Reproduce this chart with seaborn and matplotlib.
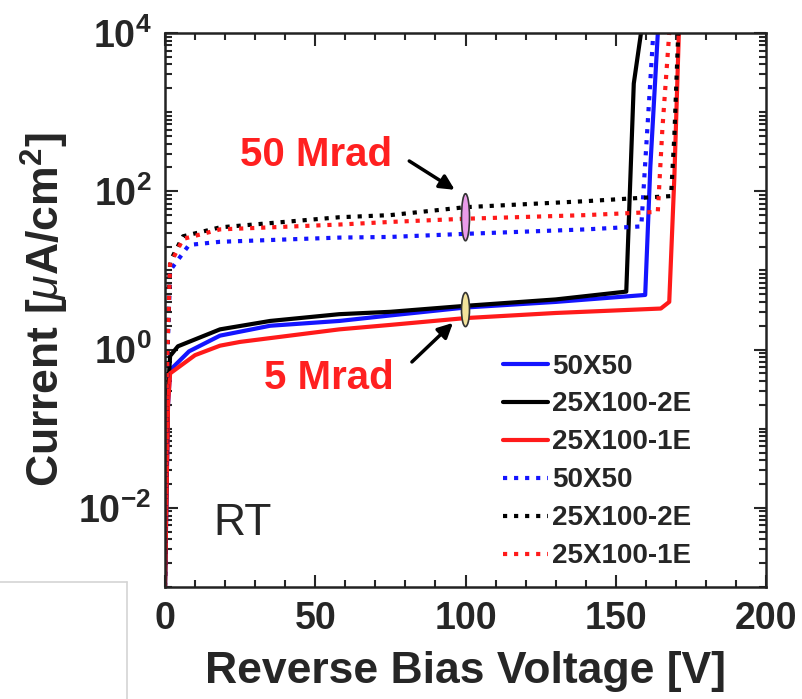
import numpy as np
import matplotlib
matplotlib.use('Agg')
import matplotlib.pyplot as plt
import matplotlib.ticker as mticker
from matplotlib.patches import Ellipse
from matplotlib.lines import Line2D
import seaborn as sns

# 5 Mrad (solid)
v_50x50_5 = [0, 1.0, 1.7, 8, 18.3, 35, 58, 75, 100, 130, 159.8, 161.5, 164]
i_50x50_5 = [1e-3, 0.2, 0.55, 0.95, 1.5, 2.0, 2.3, 2.7, 3.4, 4.0, 4.9, 200, 1e4]
v_2e_5 = [0, 1.0, 1.7, 4.3, 18.3, 35, 58, 75, 100, 130, 153.5, 156, 158.4]
i_2e_5 = [1e-3, 0.3, 0.83, 1.1, 1.8, 2.3, 2.8, 3.0, 3.57, 4.3, 5.4, 2300, 1e4]
v_1e_5 = [0, 1.0, 1.7, 10, 18.3, 25, 58, 75, 100, 130, 165, 167.8, 169.5, 171]
i_1e_5 = [1e-3, 0.2, 0.5, 0.85, 1.12, 1.25, 1.8, 2.05, 2.5, 2.9, 3.3, 4.0, 150, 1e4]

# 50 Mrad (dotted)
v_50x50_50 = [0, 0.8, 1.7, 8, 18.3, 58, 75, 100, 140, 158.5, 160, 162.5]
i_50x50_50 = [1e-3, 0.8, 10, 21, 23, 26, 26.5, 29, 33, 36, 300, 1e4]
v_2e_50 = [0, 0.8, 1.7, 6, 18.3, 58, 75, 100, 140, 168.4, 169.5, 170.8]
i_2e_50 = [1e-3, 1.0, 13, 27, 35, 47, 50, 63, 75, 87, 500, 1e4]
v_1e_50 = [0, 0.8, 1.7, 6, 18.3, 58, 75, 100, 140, 164, 165.5, 167.8]
i_1e_50 = [1e-3, 1.0, 12, 25, 33, 38, 41, 45, 50, 55, 600, 1e4]

labels = ['50X50', '25X100-2E', '25X100-1E']
colors = ['#1414ff', 'black', '#ff1a1a']
solid = [(v_50x50_5, i_50x50_5), (v_2e_5, i_2e_5), (v_1e_5, i_1e_5)]
dotted = [(v_50x50_50, i_50x50_50), (v_2e_50, i_2e_50), (v_1e_50, i_1e_50)]

sns.set_style('ticks')
plt.rcParams['font.family'] = ['Liberation Sans', 'DejaVu Sans']
plt.rcParams['mathtext.fontset'] = 'custom'
plt.rcParams['mathtext.rm'] = 'Liberation Sans'
plt.rcParams['mathtext.it'] = 'Liberation Sans:italic'
plt.rcParams['mathtext.bf'] = 'Liberation Sans:bold'

fig = plt.figure(figsize=(8.02, 6.99), dpi=100)
ax = fig.add_axes([165/802, 1-587/699, 601/802, 554/699])

for (v, i), lab, c in zip(solid, labels, colors):
    sns.lineplot(x=v, y=i, color=c, lw=3, label=lab, sort=False, estimator=None, ax=ax)
for (v, i), lab, c in zip(dotted, labels, colors):
    sns.lineplot(x=v, y=i, color=c, lw=3, linestyle=':', label=lab, sort=False, estimator=None, ax=ax)

ax.set_yscale('log')
ax.set_xlim(0, 200)
ax.set_ylim(1e-3, 1e4)

ax.xaxis.set_major_locator(mticker.MultipleLocator(50))
ax.xaxis.set_minor_locator(mticker.MultipleLocator(10))
ax.yaxis.set_major_locator(mticker.LogLocator(base=100, numticks=10))
ax.yaxis.set_minor_locator(mticker.LogLocator(base=10, subs=np.arange(1, 10), numticks=30))
ax.yaxis.set_major_formatter(mticker.FuncFormatter(
    lambda val, pos: r'$\mathbf{10^{%d}}$' % int(round(np.log10(val)))))
ax.yaxis.set_minor_formatter(mticker.NullFormatter())

ax.tick_params(which='both', direction='in', top=True, right=True, width=1.5, labelsize=27)
ax.tick_params(which='major', length=9)
ax.tick_params(which='minor', length=5)
ax.tick_params(axis='x', pad=10)
ax.tick_params(axis='y', pad=10)
for t in ax.get_xticklabels():
    t.set_fontweight('bold')
for s in ax.spines.values():
    s.set_linewidth(1.8)
    s.set_color('#222222')

ax.set_xlabel('Reverse Bias Voltage [V]', fontsize=32, fontweight='bold', labelpad=10)
ax.set_ylabel(r'Current [$\mu$A/cm$^\mathbf{2}$]', fontsize=32, fontweight='bold', labelpad=5)

ax.legend(loc='lower left', bbox_to_anchor=(0.563, 0.032), frameon=False,
          prop={'weight': 'bold', 'size': 20}, handlelength=1.6, handletextpad=0.15,
          labelspacing=0.43, borderpad=0, borderaxespad=0)

# annotations
ax.text(50.2, 206, '50 Mrad', color='#ff2020', fontsize=29, fontweight='bold',
        ha='center', va='baseline')
ax.text(54.6, 0.32, '5 Mrad', color='#ff2020', fontsize=29, fontweight='bold',
        ha='center', va='baseline')
ax.annotate('', xy=(97.2, 100), xytext=(80.5, 252),
            arrowprops=dict(arrowstyle='-|>', lw=2.5, color='black', mutation_scale=22))
ax.annotate('', xy=(96.5, 2.3), xytext=(81.5, 0.66),
            arrowprops=dict(arrowstyle='-|>', lw=2.5, color='black', mutation_scale=22))


def axes_xy(x, y):
    return ax.transAxes.inverted().transform(ax.transData.transform((x, y)))


ax.add_patch(Ellipse(axes_xy(100, 47), 8/601, 47/554, transform=ax.transAxes,
                     facecolor='#e99be9', edgecolor='#333333', lw=1.2, zorder=5))
ax.add_patch(Ellipse(axes_xy(100, 3.2), 8/601, 34/554, transform=ax.transAxes,
                     facecolor='#f2e29a', edgecolor='#333333', lw=1.2, zorder=5))

ax.text(16, 4.5e-3, 'RT', fontsize=32, ha='left', va='baseline')

# light grey frame remnant at bottom-left
fig.add_artist(Line2D([0, 127/802], [1-582/699, 1-582/699], color='#d4d4d4', lw=1.2))
fig.add_artist(Line2D([127/802, 127/802], [0, 1-582/699], color='#d4d4d4', lw=1.2))

fig.savefig('out.png', dpi=100)
